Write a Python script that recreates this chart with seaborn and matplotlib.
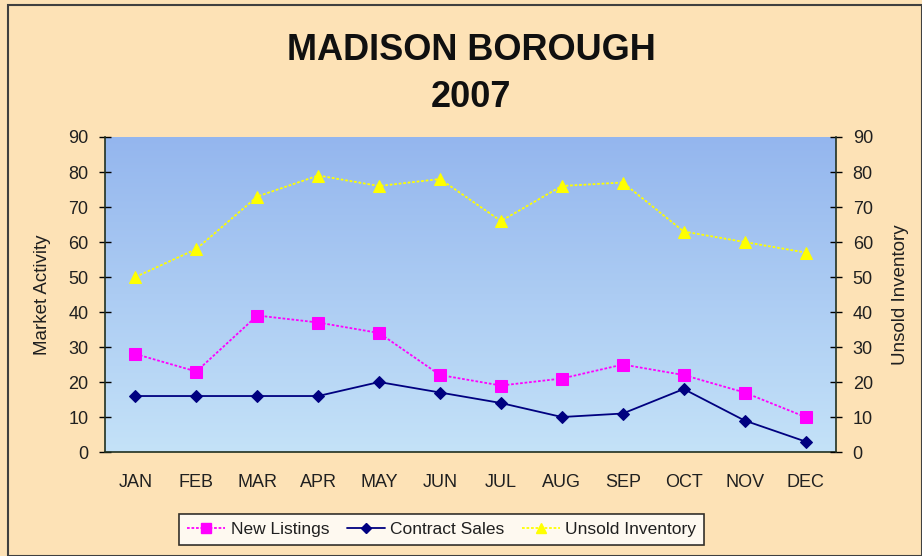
import numpy as np
import pandas as pd
import matplotlib
matplotlib.use("Agg")
import matplotlib.pyplot as plt
from matplotlib.colors import LinearSegmentedColormap
from matplotlib.patches import Rectangle
from matplotlib.lines import Line2D
import seaborn as sns

# Chart data
months = ["JAN", "FEB", "MAR", "APR", "MAY", "JUN",
          "JUL", "AUG", "SEP", "OCT", "NOV", "DEC"]
new_listings = [28, 23, 39, 37, 34, 22, 19, 21, 25, 22, 17, 10]
contract_sales = [16, 16, 16, 16, 20, 17, 14, 10, 11, 18, 9, 3]
unsold_inventory = [50, 58, 73, 79, 76, 78, 66, 76, 77, 63, 60, 57]
y_ticks = list(range(0, 100, 10))

sns.set_theme(style="white")
plt.rcParams["font.family"] = ["Liberation Sans", "DejaVu Sans"]
txt = "#202020"

fig = plt.figure(figsize=(9.22, 5.56), dpi=100)
fig.patch.set_facecolor("#fde2b6")
ax = fig.add_axes([0.1139, 0.187, 0.7928, 0.5666])

# Gradient plot background
grad = LinearSegmentedColormap.from_list("bg", ["#c4e2f8", "#94b6ee"])
ax.imshow(np.linspace(0, 1, 256).reshape(-1, 1), cmap=grad, origin="lower",
          extent=[-0.5, 11.5, 0, 90], aspect="auto", zorder=0)

df = pd.DataFrame({"Month": months, "New Listings": new_listings,
                   "Contract Sales": contract_sales,
                   "Unsold Inventory": unsold_inventory})

styles = {
    "New Listings": dict(color="#ff00ff", marker="s", ls=(0, (1.5, 1)), ms=8),
    "Contract Sales": dict(color="#000080", marker="D", ls="-", ms=6),
    "Unsold Inventory": dict(color="#ffff00", marker="^", ls=(0, (1.5, 1)), ms=8),
}
for name, st in styles.items():
    sns.lineplot(data=df, x="Month", y=name, ax=ax, color=st["color"],
                 marker=st["marker"], markersize=st["ms"], linestyle=st["ls"],
                 linewidth=1.3, markeredgecolor=st["color"], zorder=3)

fs = 13
ax.set_xlim(-0.5, 11.5)
ax.set_ylim(0, 90)
ax.set_yticks(y_ticks)
ax.set_xticks(range(len(months)))
ax.set_xticklabels(months)
ax.set_xticks(np.arange(0.5, 11, 1), minor=True)
ax.tick_params(axis="x", which="major", length=0, pad=16, labelsize=fs,
               labelcolor=txt)
ax.tick_params(axis="x", which="minor", length=7, direction="in", width=1, color="black")
ax.tick_params(axis="y", length=8, direction="inout", width=1, color="black",
               labelsize=fs, pad=8, left=True, labelcolor=txt)
ax.set_xlabel("")
ax.set_ylabel("Market Activity", fontsize=13.5, labelpad=12, color=txt)
for s in ["top", "right"]:
    ax.spines[s].set_visible(False)
for s in ["left", "bottom"]:
    ax.spines[s].set_color("#203020")
    ax.spines[s].set_linewidth(1.2)

ax2 = ax.twinx()
ax2.set_ylim(0, 90)
ax2.set_yticks(y_ticks)
ax2.tick_params(axis="y", length=8, direction="inout", width=1, color="black",
                labelsize=fs, pad=8, right=True, labelcolor=txt)
ax2.set_ylabel("Unsold Inventory", fontsize=13.5, labelpad=14, color=txt)
for s in ["top", "left", "bottom"]:
    ax2.spines[s].set_visible(False)
ax2.spines["right"].set_color("#203020")
ax2.spines["right"].set_linewidth(1.2)
ax2.grid(False)
ax.grid(False)

fig.text(0.511, 0.91, "MADISON BOROUGH", ha="center", va="center",
         fontsize=26, fontweight="bold", color="#101010")
fig.text(0.511, 0.825, "2007", ha="center", va="center",
         fontsize=26, fontweight="bold", color="#101010")

handles = [Line2D([0], [0], color=st["color"], marker=st["marker"],
                  linestyle=st["ls"], markersize=st["ms"] - 1,
                  markeredgecolor=st["color"], linewidth=1.3)
           for st in styles.values()]
leg = fig.legend(handles, list(styles.keys()), loc="center",
                 bbox_to_anchor=(0.479, 0.048), ncol=3, frameon=True,
                 fancybox=False, edgecolor="black", facecolor="white",
                 fontsize=12.5, handlelength=2.2, columnspacing=1.0,
                 borderpad=0.45, handletextpad=0.3, labelcolor=txt)
leg.get_frame().set_linewidth(1.2)

fig.patches.append(Rectangle((8 / 922, 0.0), 914 / 922, 551 / 556,
                             transform=fig.transFigure, fill=False,
                             edgecolor="#404040", linewidth=1.5))

fig.savefig("out.png", dpi=100)
